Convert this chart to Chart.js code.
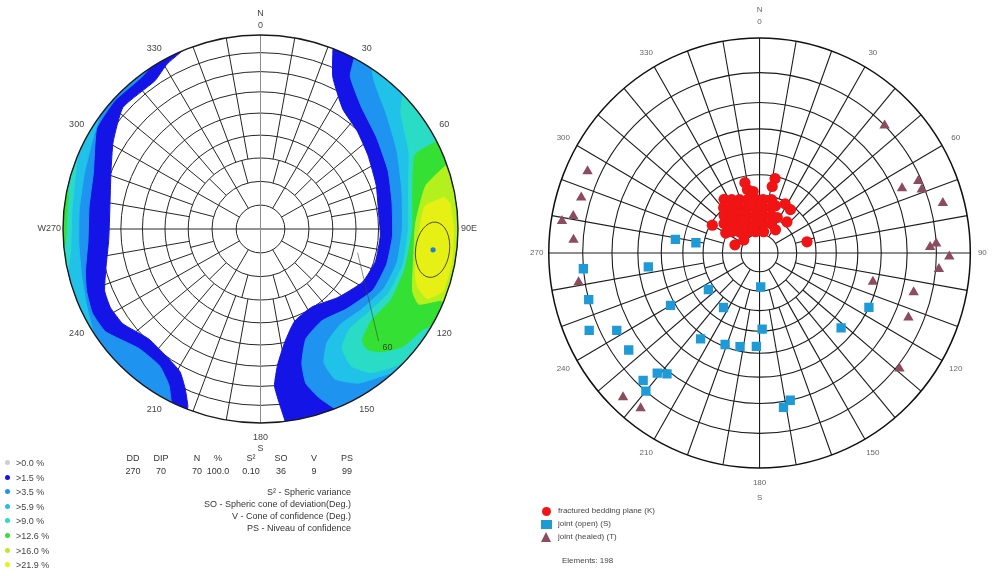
<!DOCTYPE html>
<html>
<head>
<meta charset="utf-8">
<title>Stereonets</title>
<script src="https://cdn.jsdelivr.net/npm/chart.js@4.4.1/dist/chart.umd.min.js"></script>
<style>
  html, body { margin: 0; background: #fff; }
  body { position: relative; width: 998px; height: 576px; overflow: hidden; font-family: Arial, "Liberation Sans", sans-serif; color: #333; }
  canvas { position: absolute; top: 0; }
  #left  { left: 0; }
  #right { left: 520px; }
  .txt { position: absolute; font-size: 9px; line-height: 10px; white-space: nowrap; }
  .c { transform: translateX(-50%); }
  .r { transform: translateX(-100%); }
  .key { position: absolute; left: 5px; font-size: 9px; line-height: 10px; white-space: nowrap; color: #444; }
  .key i { display: inline-block; width: 5px; height: 5px; border-radius: 50%; margin-right: 6px; vertical-align: 1px; }
  .lg { position: absolute; left: 558px; font-size: 8px; line-height: 10px; white-space: nowrap; color: #444; }
  .mk { position: absolute; }
</style>
</head>
<body>
<canvas id="left" width="520" height="576"></canvas>
<canvas id="right" width="478" height="576"></canvas>
<script>
/* global Chart */

// ── Data ─────────────────────────────────────────────
const tickAz     = [30, 60, 120, 150, 210, 240, 300, 330];
const tickLabels = ['30', '60', '120', '150', '210', '240', '300', '330'];
const ringDips   = [10, 20, 30, 40, 50, 60, 70, 80];
const spokeBands = [[10, 20, 30], [20, 30, 15], [30, 90, 10]];   // [from dip, to dip, step deg]

const contourLevels = ['>0.0 %', '>1.5 %', '>3.5 %', '>5.9 %', '>9.0 %', '>12.6 %', '>16.0 %', '>21.9 %'];
const contourColors = ['#cfcfcf', '#1414e6', '#1e94f0', '#20c2e8', '#2adcc6', '#34e034', '#b4f01e', '#e6f014'];

// contour outlines as [azimuth, angle from centre]; > 90 lies outside the net and gets clipped
const west15 = [[341,93],[331,87],[325,82.5],[312,83],[301,76],[291,70],[278,66],[266,66],[255,70],[248,74],[242,75],[235,74],[225,69],[216,70],[209,73],[205,79.5],[202,88],[201,94],[195,97],[225,97],[255,97],[285,97],[315,97],[341,97]];
const west35 = [[331,93],[322,88.5],[312,89],[302,87.5],[289,78.5],[277.5,76.5],[266,76.5],[256,80.5],[250,83],[243,85],[236,84],[225,76],[216,76],[210,82],[207,89.5],[205,94],[200,97],[230,97],[260,97],[290,97],[320,97],[331,97]];
const west59 = [[312,95],[300,87],[288,83],[276,81.5],[265,81.5],[255,83],[246,86],[238,90],[232,95],[232,97],[262,97],[292,97],[312,97]];
const west90 = [[298,95],[288,88],[276,85.5],[263,86.5],[252,95],[252,97],[275,97],[298,97]];
const west126 = [[287,95],[281,89],[274,88],[266,89],[261,95],[261,97],[274,97],[287,97]];

const east15 = [[21,93],[25,75.5],[34,63.6],[44,59.7],[55,56],[69,52.7],[81,50.6],[93,50.9],[106,50.7],[118,48.8],[132,43.8],[147,39.6],[160,41.9],[168,49.7],[173,60],[175,70],[174,79],[172.5,93],[172,97],[145,97],[115,97],[85,97],[55,97],[25,97],[21,97]];
const east35 = [[28,93],[30,80],[39,70],[51,64.5],[65,60.5],[78,57.5],[93,56.5],[106,56],[119,54.8],[133.6,50.1],[146.7,47.2],[157.9,51.2],[163.2,61.6],[163.9,71.7],[161,81.5],[157,93],[157,97],[130,97],[100,97],[70,97],[40,97],[28,97]];
const east59 = [[33,93],[37,85],[47,76],[59.5,69],[74,63.5],[90,61],[104,60.5],[116,59],[129,55.5],[140,53.5],[150,57],[155,65],[154,75],[148,83],[140,88],[135,93],[135,97],[110,97],[80,97],[55,97],[33,97]];
const east90 = [[45,93],[50,82],[62,74],[75,66.5],[90,64],[104,63.5],[117,62],[128,59],[139,58],[146,63],[147,73],[143,82],[136,88],[130,93],[130,97],[105,97],[75,97],[45,97]];
const east126 = [[63,93],[64,76],[77,68],[90,66],[106,65],[119,64.5],[130,62.5],[138,66],[139,71],[136,77],[130,83.5],[122,87],[118,93],[118,97],[90,97],[63,97]];
const east160 = [[70,93],[75,75.6],[88,67.5],[101.5,68],[112.6,72.3],[115.8,78],[112,88],[112,93],[112,97],[90,97],[70,97]];
const east219 = [[80,84],[82,73],[90,69.5],[103,69.5],[108,71.5],[111,74.5],[113,81],[109,87.5],[100,88],[90,87.5],[82,86.5]];

const contourBands = [
  [1, west15], [1, east15], [2, west35], [2, east35], [3, west59], [3, east59],
  [4, west90], [4, east90], [5, west126], [5, east126], [6, east160], [7, east219],
];

const meanPole  = [97, 77];            // plotted maximum, [azimuth, angle]
const coneV     = 9;                   // cone of confidence, deg
const traceLine = [[104, 42], [134, 72]];
const traceLabel = '60';

const statHeads  = ['DD', 'DIP', 'N', '%', 'S²', 'SO', 'V', 'PS'];
const statValues = ['270', '70', '70', '100.0', '0.10', '36', '9', '99'];
const statNotes  = ['S² - Spheric variance', 'SO - Spheric cone of deviation(Deg.)', 'V - Cone of confidence (Deg.)', 'PS - Niveau of confidence'];

// poles on the right net, [azimuth, angle from centre]
const bedding = [
  [326,33.5],[332,31.4],[339,29.8],[347,28.6],[356,28],[4,28],[13,28.6],
  [321,30.3],[328,27.9],[336,26],[345,24.7],[355,24],[5,24],[15,24.7],
  [316,27.2],[323,24.6],[332,22.4],[342,20.7],[354,19.8],[6,19.8],[18,20.7],
  [309,24.5],[316,21.4],[325,18.8],[337.5,16.8],[352,15.7],[8,15.7],[22.5,16.8],
  [307,18.7],[316,15.5],[330,13],[349,11.5],[11,11.5],
  [349,33.5],[354,32.1],[19,26.2],[27,21],
  [334,28.5],[350,26.3],[1,25.9],[326,25.8],[341,22.6],[0,21.9],[320,22.9],[333,19.6],[0,17.7],[325,15.2],
  [348,37],[12,39],[11,35],[28,29],[36,28],[42,22],[35,15],[77,26],[288,14],[309,11],[300,29],[300,21],
];
const openJoints = [
  [279,44],[279,34],[265,80],[263,56],[178,18],[235,33],[255,80],[240,52],[214,34],[116,60],
  [246,83],[242,75],[132,55],[178,39],[215,52],[234,75],[201,49],[192,48],[182,47],[221,73],
  [218,71],[223,78],[220,80],[168,70],[171,72],
];
const healedJoints = [
  [45,80],[295,84],[287,83],[279,87],[281,84],[274,83],[66,73],[66,79],[69,79],[75,84],[87,80],
  [88,78],[91,84],[95,81],[261,82],[104,58],[104,74],[113,75],[129,81],[224,86],[218,85],
];
const poleSeries   = ['fractured bedding plane (K)', 'joint (open) (S)', 'joint (healed) (T)'];
const poleColors   = ['#f01414', '#1e9bd7', '#8c4b5f'];
const elementCount = 198;

// ── Projection helpers ───────────────────────────────

const D2R = Math.PI / 180;
const equalArea  = a => Math.SQRT2 * Math.sin(a * D2R / 2);   // Schmidt net
const equalAngle = a => Math.tan(a * D2R / 2);                // Wulff net

function toXY(proj, az, a) {
  const r = proj(a);
  return { x: r * Math.sin(az * D2R), y: r * Math.cos(az * D2R) };
}

function polar(chart, az, r) {
  const { x, y } = chart.scales;
  return [x.getPixelForValue(r * Math.sin(az * D2R)), y.getPixelForValue(r * Math.cos(az * D2R))];
}

function netEllipse(chart, r) {
  const { x, y } = chart.scales;
  const cx = x.getPixelForValue(0), cy = y.getPixelForValue(0);
  chart.ctx.beginPath();
  chart.ctx.ellipse(cx, cy, x.getPixelForValue(r) - cx, cy - y.getPixelForValue(r), 0, 0, Math.PI * 2);
}

// ── Net plugin: grid under the data, outline + labels over it ──

function netPlugin(o) {
  return {
    id: 'net',
    beforeDatasetsDraw(chart) {
      const { ctx } = chart;
      const P = (az, a) => polar(chart, az, o.proj(a));
      ctx.save();
      ctx.strokeStyle = o.color;
      ctx.lineWidth = o.width;
      ringDips.forEach(a => { netEllipse(chart, o.proj(a)); ctx.stroke(); });
      spokeBands.forEach(([from, to, step]) => {
        for (let az = 0; az < 360; az += step) {
          if (az % 90 === 0) continue;
          ctx.beginPath(); ctx.moveTo(...P(az, from)); ctx.lineTo(...P(az, to)); ctx.stroke();
        }
      });
      ctx.beginPath(); ctx.moveTo(...P(90, 90)); ctx.lineTo(...P(270, 90)); ctx.stroke();
      ctx.strokeStyle = o.nsColor || o.color;
      ctx.beginPath(); ctx.moveTo(...P(0, 90)); ctx.lineTo(...P(180, 90)); ctx.stroke();
      ctx.restore();
      if (o.clip) { ctx.save(); netEllipse(chart, 1); ctx.clip(); }
    },
    afterDatasetsDraw(chart) {
      const { ctx } = chart;
      if (o.clip) ctx.restore();
      ctx.save();
      ctx.strokeStyle = o.rim;
      ctx.lineWidth = o.width + 0.4;
      netEllipse(chart, 1); ctx.stroke();

      ctx.fillStyle = o.textColor;
      ctx.font = o.font;
      ctx.textAlign = 'center';
      ctx.textBaseline = 'middle';
      tickAz.forEach((az, i) => ctx.fillText(tickLabels[i], ...polar(chart, az, o.tickR)));
      o.compass.forEach(([t, az, r, align]) => {
        const [px, py] = polar(chart, az, r);
        ctx.textAlign = align || 'center';
        ctx.fillText(t, px, py);
      });
      ctx.restore();
      if (o.extra) o.extra(chart);
    },
  };
}

// ── Left: contoured Schmidt net ──────────────────────

function drawCone(chart) {
  const { ctx, scales: { x, y } } = chart;
  const [az, a] = meanPole;
  const rIn = equalArea(a - coneV), rOut = equalArea(a + coneV);
  const semiR = (rOut - rIn) / 2;
  const semiT = equalArea(a) * Math.asin(Math.sin(coneV * D2R) / Math.sin(a * D2R));
  const k = (x.getPixelForValue(1) - x.getPixelForValue(0) + y.getPixelForValue(0) - y.getPixelForValue(1)) / 2;
  const [cx, cy] = polar(chart, az, (rIn + rOut) / 2);
  ctx.save();
  ctx.strokeStyle = '#3a3a2a';
  ctx.lineWidth = 0.9;
  ctx.beginPath();
  ctx.ellipse(cx, cy, semiR * k, semiT * k, (az - 90) * D2R, 0, Math.PI * 2);
  ctx.stroke();
  const end = traceLine[traceLine.length - 1];
  const [lx, ly] = polar(chart, end[0], equalArea(end[1]));
  ctx.fillStyle = '#2e4a1e';
  ctx.font = '9px Arial, "Liberation Sans", sans-serif';
  ctx.textBaseline = 'middle';
  ctx.fillText(traceLabel, lx + 4, ly + 6);
  ctx.restore();
}

const leftDatasets = contourBands.map(([lvl, pts]) => ({
  type: 'line',
  data: pts.map(p => toXY(equalArea, p[0], p[1])),
  fill: 'shape',
  backgroundColor: contourColors[lvl],
  borderColor: contourColors[lvl],
  borderWidth: 1,
  pointRadius: 0,
  tension: 0.15,
  order: 20 - lvl,
}));
leftDatasets.push({
  type: 'line',
  data: traceLine.map(p => toXY(equalArea, p[0], p[1])),
  borderColor: 'rgba(60,70,50,0.75)', borderWidth: 0.8, pointRadius: 0, fill: false, order: 1,
});
leftDatasets.push({
  type: 'scatter',
  data: [toXY(equalArea, meanPole[0], meanPole[1])],
  backgroundColor: '#1e82d2', borderWidth: 0, pointRadius: 2.6, order: 0,
});

const hiddenAxis = { type: 'linear', min: -1.1, max: 1.1, display: false };

new Chart(document.getElementById('left'), {
  type: 'scatter',
  data: { datasets: leftDatasets },
  options: {
    responsive: false, animation: false, devicePixelRatio: 1, events: [],
    layout: { padding: { left: 43.25, right: 42.25, top: 15.6, bottom: 133.6 } },
    scales: { x: hiddenAxis, y: hiddenAxis },
    plugins: { legend: { display: false }, tooltip: { enabled: false } },
  },
  plugins: [netPlugin({
    proj: equalArea, clip: true,
    color: '#262626', nsColor: '#8c8c8c', rim: '#1a1a1a', width: 1,
    textColor: '#444', font: '9px Arial, "Liberation Sans", sans-serif', tickR: 1.075,
    compass: [['N', 0, 1.11], ['0', 0, 1.05], ['180', 180, 1.075], ['S', 180, 1.13],
              ['W270', 270, 1.01, 'right'], ['90E', 90, 1.015, 'left']],
    extra: drawCone,
  })],
});

// ── Right: Wulff net with poles ──────────────────────

const poleData = [bedding, openJoints, healedJoints];
const poleStyles = [
  { pointStyle: 'circle',   pointRadius: 5.6 },
  { pointStyle: 'rect',     pointRadius: 6.6 },
  { pointStyle: 'triangle', pointRadius: 6 },
];

new Chart(document.getElementById('right'), {
  type: 'scatter',
  data: {
    datasets: poleData.map((pts, i) => ({
      label: poleSeries[i],
      data: pts.map(p => toXY(equalAngle, p[0], p[1])),
      backgroundColor: poleColors[i], borderWidth: 0,
      ...poleStyles[i],
      order: i,
    })),
  },
  options: {
    responsive: false, animation: false, devicePixelRatio: 1, events: [],
    layout: { padding: { left: 7.7, right: 1.7, top: 16.5, bottom: 86.5 } },
    scales: { x: hiddenAxis, y: hiddenAxis },
    plugins: { legend: { display: false }, tooltip: { enabled: false } },
  },
  plugins: [netPlugin({
    proj: equalAngle, clip: false,
    color: '#1c1c1c', rim: '#111', width: 1.1,
    textColor: '#666', font: '8px Arial, "Liberation Sans", sans-serif', tickR: 1.075,
    compass: [['N', 0, 1.13], ['0', 0, 1.075], ['180', 180, 1.07], ['S', 180, 1.14],
              ['270', 270, 1.057], ['90', 90, 1.057]],
  })],
});

// ── Text blocks ──────────────────────────────────────

function addText(cls, text, left, top) {
  const d = document.createElement('div');
  d.className = cls;
  d.textContent = text;
  d.style.left = left + 'px';
  d.style.top = top + 'px';
  document.body.appendChild(d);
  return d;
}

contourLevels.forEach((t, i) => {
  const d = document.createElement('div');
  d.className = 'key';
  d.style.top = (458 + i * 14.6) + 'px';
  d.innerHTML = `<i style="background:${contourColors[i]}"></i>${t}`;
  document.body.appendChild(d);
});

const statX = [133, 161, 197, 218, 251, 281, 314, 347];
statHeads.forEach((t, i)  => addText('txt c', t, statX[i], 453));
statValues.forEach((t, i) => addText('txt c', t, statX[i], 466));
statNotes.forEach((t, i)  => addText('txt r', t, 351, 487 + i * 12));

poleSeries.forEach((t, i) => {
  const top = 506 + i * 13;
  addText('lg', t, 558, top);
  const m = document.createElement('div');
  m.className = 'mk';
  if (i === 0) Object.assign(m.style, { left: '542px', top: (top + 0.5) + 'px', width: '9px', height: '9px', borderRadius: '50%', background: poleColors[0] });
  if (i === 1) Object.assign(m.style, { left: '541px', top: (top + 0.5) + 'px', width: '11px', height: '9px', background: poleColors[1] });
  if (i === 2) Object.assign(m.style, { left: '541px', top: top + 'px', width: 0, height: 0, borderLeft: '5.5px solid transparent', borderRight: '5.5px solid transparent', borderBottom: '10px solid ' + poleColors[2] });
  document.body.appendChild(m);
});
addText('lg', 'Elements:  ' + elementCount, 562, 556);
</script>
</body>
</html>
